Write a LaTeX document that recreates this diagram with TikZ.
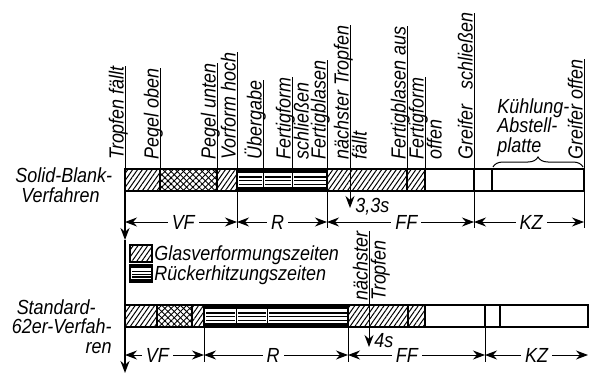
\documentclass[tikz,border=0pt]{standalone}
\usepackage{fontspec}
\setmainfont{Liberation Sans}[FakeStretch=0.88]
\usetikzlibrary{arrows.meta, patterns.meta, decorations.pathreplacing}

\begin{document}
\begin{tikzpicture}[x=0.5pt, y=-0.5pt, >={Stealth[length=6pt, width=4.5pt]},
    lbl/.style={font=\itshape\fontsize{10.2}{9.6}\selectfont, inner sep=0pt},
    vlbl/.style={lbl, rotate=90, anchor=base west},
    vlbltwo/.style={lbl, rotate=90, anchor=north west},
    evline/.style={line width=0.5pt},
    barline/.style={line width=1.1pt},
    axisline/.style={line width=0.9pt},
    dim/.style={line width=0.5pt, <->},
    dimlbl/.style={lbl, fill=white, inner xsep=2pt, inner ysep=1pt},
    hatch/.style={pattern={Lines[angle=55, distance=2pt, line width=0.5pt]}},
    xhatch/.style={pattern={Lines[angle=45, distance=2.2pt, line width=0.45pt]},
                   postaction={pattern={Lines[angle=-45, distance=2.2pt, line width=0.45pt]}}}]

\useasboundingbox (0,0) rectangle (590,380);

% ════════════════════════════════════════
%  Event labels above the upper bar
% ════════════════════════════════════════

\node[vlbl] (tropf) at (123.5,160) {Tropfen fällt};
\node[vlbl] (pegelo) at (158.5,160) {Pegel oben};
\node[vlbl] (pegelu) at (215.5,160) {Pegel unten};
\node[vlbl] (vfhoch) at (235.5,160) {Vorform hoch};
\node[vlbl] (uebg) at (261.5,160) {Übergabe};
\node[vlbl] (ffs) at (290.5,160) {Fertigform};
\node[vlbltwo] (ffs2) at (293.5,160) {schließen};
\node[vlbl] (fbl) at (325.5,160) {Fertigblasen};
\node[vlbl] (ntf) at (348.5,160) {nächster Tropfen};
\node[vlbltwo] (ntf2) at (351.5,160) {fällt};
\node[vlbl] (fba) at (405.5,160) {Fertigblasen aus};
\node[vlbl] (ffo) at (423.5,160) {Fertigform};
\node[vlbltwo] (ffo2) at (426.5,160) {offen};
\node[vlbl] (grs) at (472.5,160) {Greifer\hspace{5pt} schließen};
\node[vlbl] (gro) at (582.5,160) {Greifer offen};

% Cooling plate, with brace
\node[lbl, align=left, anchor=base west] (kuehl) at (497,152) {Kühlung-\\Abstell-\\platte};
\coordinate (brl) at (493,167);
\coordinate (brr) at (583,167);
\draw[evline, decorate, decoration={brace, amplitude=5pt}] (brl) -- (brr);

% Process names
\node[lbl, align=left, anchor=base west] (solid) at (15,202) {Solid-Blank-\\\hspace*{3pt}Verfahren};
\node[lbl, align=right, anchor=base east] (standard) at (112,353)
    {Standard-\hspace*{8pt}\\62er-Verfah-\\ren};

% ════════════════════════════════════════
%  Upper bar: Solid-Blank
% ════════════════════════════════════════

\fill[hatch] (125,169) rectangle (160,191);
\fill[xhatch] (160,169) rectangle (217,191);
\fill[hatch] (217,169) rectangle (237,191);
\fill[hatch] (327,169) rectangle (407,191);
\fill[hatch] (407,169) rectangle (425,191);

% ════════════════════════════════════════
%  Lower bar: Standard 62er
% ════════════════════════════════════════

\fill[hatch] (125,305) rectangle (157,327);
\fill[xhatch] (157,305) rectangle (192,327);
\fill[hatch] (192,305) rectangle (204,327);
\fill[hatch] (348,305) rectangle (408,327);
\fill[hatch] (408,305) rectangle (425,327);

% Reheating stripes (both bars and legend)
\foreach \a/\b/\t/\h in {237/263/169/22, 263/292/169/22, 292/327/169/22,
                         204/236/305/22, 236/267/305/22, 267/348/305/22,
                         130/152/265/17} {
  \fill (\a,\t) rectangle (\b,\t+0.2*\h);
  \foreach \f in {0.33,0.5,0.67}
    \fill (\a+1.5,\t+\f*\h) rectangle (\b-1.5,\t+\f*\h+1.4);
  \fill (\a,\t+0.82*\h) rectangle (\b,\t+\h);
}

% Outlines and separators
\draw[barline] (125,169) rectangle (584,191);
\foreach \x in {160,217,237,327,407,425,474,492}
  \draw[barline] (\x,169) -- (\x,191);
\foreach \x in {263,292}
  \draw[evline] (\x,169) -- (\x,191);

\draw[barline] (125,305) rectangle (588,327);
\foreach \x in {157,192,204,348,408,425,485,500}
  \draw[barline] (\x,305) -- (\x,327);
\foreach \x in {236,267}
  \draw[evline] (\x,305) -- (\x,327);

% ════════════════════════════════════════
%  Event lines
% ════════════════════════════════════════

\foreach \n/\x in {tropf/125, pegelo/160, pegelu/217, vfhoch/237, uebg/263, ffs/292,
                   fbl/327, ntf/350, fba/407, ffo/425, grs/474, gro/584} {
  \coordinate (\n-e) at (\x,168);
  \draw[evline] (\n-e) -- (\n-e |- \n.base east);
}

% Main time axis
\coordinate (ax1) at (125,240);
\coordinate (ax2) at (125,373);
\draw[axisline, ->] (tropf-e) -- (ax1);
\draw[axisline, ->] (ax1) -- (ax2);

% Next gob, upper bar
\coordinate (t33) at (350,208);
\draw[evline, ->] (ntf-e) -- (t33);
\node[lbl, anchor=base west] (s33) at (355,212) {3,3s};

% Next gob, lower bar
\node[vlbl] (ntu) at (367.5,301) {nächster};
\node[vlbltwo] (ntu2) at (370.5,301) {Tropfen};
\coordinate (ntu-e) at (369,305);
\coordinate (t4) at (369,347);
\draw[evline] (ntu-e) -- (ntu-e |- ntu.base east);
\draw[evline, ->] (ntu-e) -- (t4);
\node[lbl, anchor=base west] (s4) at (374,347) {4s};

% ════════════════════════════════════════
%  Dimension lines
% ════════════════════════════════════════

\foreach \x in {237,327,474,584}
  \draw[evline] (\x,191) -- (\x,228);
\foreach \a/\b/\p/\t in {125/237/0.52/VF, 237/327/0.45/R, 327/474/0.54/FF, 474/584/0.52/KZ}
  \draw[dim] (\a,222) -- node[dimlbl, pos=\p] (du-\t) {\t} (\b,222);

\foreach \x in {204,348,485}
  \draw[evline] (\x,327) -- (\x,362);
\foreach \a/\b/\p/\t in {125/204/0.41/VF, 204/348/0.48/R, 348/485/0.43/FF, 485/588/0.5/KZ}
  \draw[dim] (\a,355) -- node[dimlbl, pos=\p] (dl-\t) {\t} (\b,355);

% ════════════════════════════════════════
%  Legend
% ════════════════════════════════════════

\fill[hatch] (130,245) rectangle (152,262);
\draw[barline] (130,245) rectangle (152,262);
\draw[barline] (130,265) rectangle (152,282);
\node[lbl, anchor=base west] (leg1) at (154,260) {Glasverformungszeiten};
\node[lbl, anchor=base west] (leg2) at (154,280) {Rückerhitzungszeiten};

\end{tikzpicture}
\end{document}
